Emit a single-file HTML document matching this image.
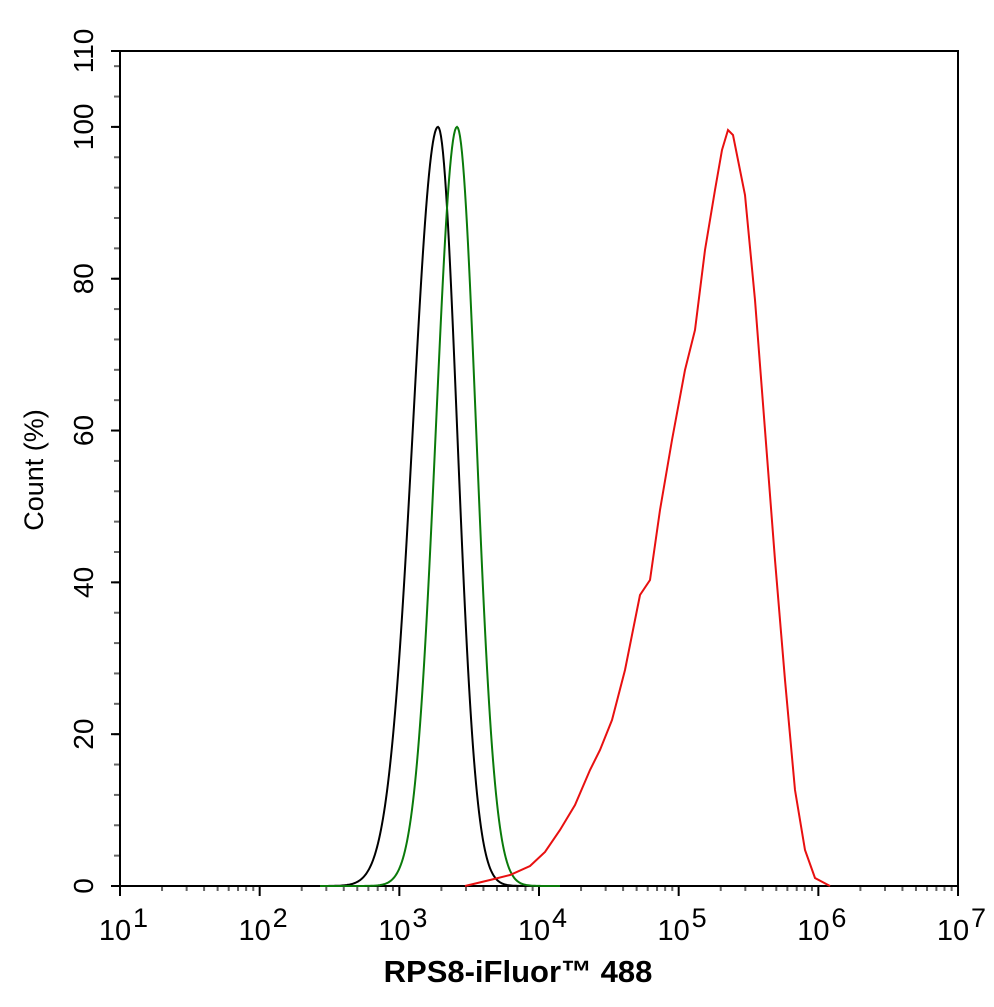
<!DOCTYPE html>
<html><head><meta charset="utf-8"><style>
body{margin:0;background:#fff}
svg text{font-family:"Liberation Sans",Arial,sans-serif}
</style></head><body>
<svg id="s" width="994" height="1002" viewBox="0 0 994 1002" xmlns="http://www.w3.org/2000/svg">
<rect width="994" height="1002" fill="#fff"/>
<g id="ticks"></g>
<rect x="120" y="51" width="838" height="835" fill="none" stroke="#000" stroke-width="2"/>
<g fill="#000" id="ylab"></g>
<g fill="#000" id="xlab"></g>
<text x="0" y="0" transform="translate(43,470) rotate(-90)" text-anchor="middle" style="font-size:27px">Count  (%)</text>
<text x="518" y="982" text-anchor="middle" style="font-size:31px;font-weight:bold">RPS8-iFluor™ 488</text>
<path id="black" fill="none" stroke="#000" stroke-width="2"/>
<path id="green" fill="none" stroke="#0a7a0a" stroke-width="2"/>
<path fill="none" stroke="#e81010" stroke-width="2" d="M465,886 L490,880 L510,875 L530,866 L545,852 L560,830 L575,805 L590,770 L600,750 L612,720 L625,670 L640,595 L650,580 L660,510 L672,440 L685,370 L695,330 L705,250 L715,190 L722,150 L728,130 L733,135 L745,195 L755,300 L765,430 L775,560 L785,680 L795,790 L805,850 L815,878 L830,886"/>
</svg>
<script>
var NS="http://www.w3.org/2000/svg",s=document.getElementById('s');
function el(p,t,a,txt){var e=document.createElementNS(NS,t);for(var k in a)e.setAttribute(k,a[k]);if(txt!=null)e.textContent=txt;p.appendChild(e);return e;}
var tk=document.getElementById('ticks'),yl=document.getElementById('ylab'),xl=document.getElementById('xlab');
function Y(v){return 886-v*7.591;}
for(var v=0;v<=110;v+=4){el(tk,'line',{x1:114,x2:120,y1:Y(v),y2:Y(v),stroke:'#666','stroke-width':2});}
[0,20,40,60,80,100,110].forEach(function(v){el(tk,'line',{x1:111,x2:120,y1:Y(v),y2:Y(v),stroke:'#000','stroke-width':2});
el(yl,'text',{transform:'translate(93,'+Y(v)+') rotate(-90)','text-anchor':'middle',style:'font-size:28px'},String(v));});
for(var d=1;d<=7;d++){var x=120+(d-1)*139.67;
el(tk,'line',{x1:x,x2:x,y1:886,y2:896,stroke:'#000','stroke-width':2});
el(xl,'text',{x:x-5,y:940,'text-anchor':'middle',style:'font-size:29px'},'10');
el(xl,'text',{x:x+13,y:927,style:'font-size:27px'},String(d));
if(d<7)for(var m=2;m<=9;m++){var xm=x+Math.log10(m)*139.67;el(tk,'line',{x1:xm,x2:xm,y1:886,y2:891,stroke:'#666','stroke-width':2});}}
function curve(id,pk,sl,sr,x0,x1){var d='';for(var x=x0;x<=x1;x+=1){var sg=x<pk?sl:sr;var v=100*Math.exp(-Math.pow((x-pk)/sg,2)/2);d+=(d?'L':'M')+x+','+Y(v).toFixed(1);}document.getElementById(id).setAttribute('d',d);}
curve('black',438,25,19,300,540);
curve('green',457,21,19,320,560);
</script>
</body></html>
